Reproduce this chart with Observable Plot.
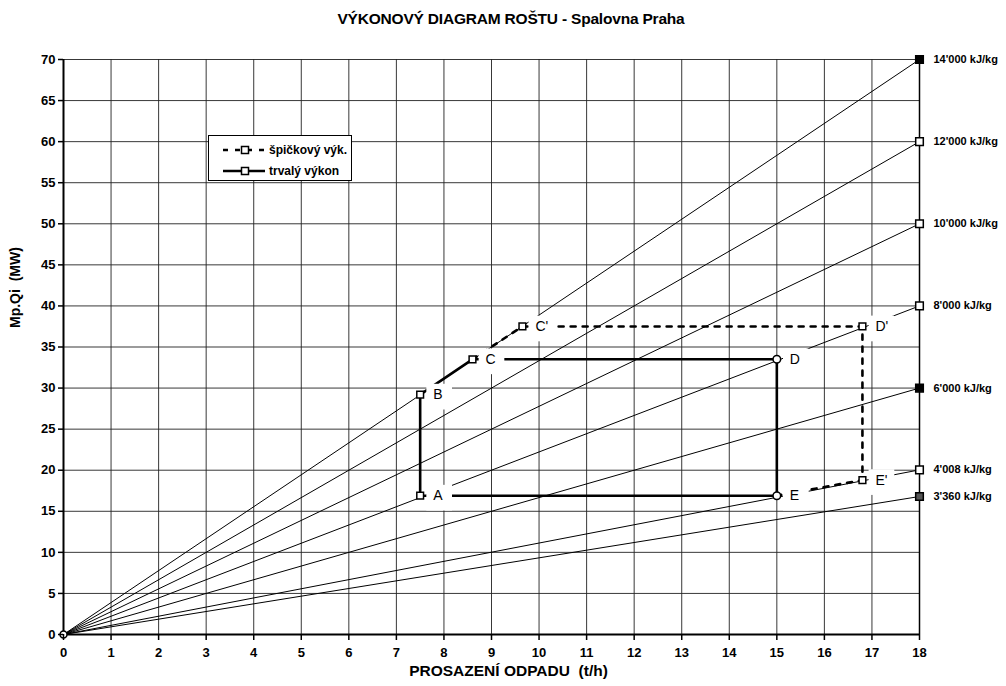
<!DOCTYPE html>
<html><head><meta charset="utf-8">
<script src="https://cdn.jsdelivr.net/npm/d3@7"></script>
<script src="https://cdn.jsdelivr.net/npm/@observablehq/plot@0.6"></script>
<style>
body{margin:0;background:#fff;font-family:"Liberation Sans",Arial,sans-serif;}
#wrap{position:relative;width:1006px;height:686px;overflow:hidden;}
#title{height:36px;line-height:38px;text-align:center;padding-left:16px;box-sizing:border-box;font-weight:bold;font-size:15.5px;letter-spacing:-0.2px;}
#legend{position:absolute;left:208px;top:135px;width:144px;height:46px;}
</style></head>
<body><div id="wrap">
<div id="title">VÝKONOVÝ DIAGRAM ROŠTU - Spalovna Praha</div>
<div id="chart"></div>
<div id="legend"></div>
</div>
<script>
// ticks
const xTicks = [0,1,2,3,4,5,6,7,8,9,10,11,12,13,14,15,16,17,18];
const yTicks = [0,5,10,15,20,25,30,35,40,45,50,55,60,65,70];
// calorific value lines (end values at 18 t/h)
const cvLabels = ["14'000 kJ/kg","12'000 kJ/kg","10'000 kJ/kg","8'000 kJ/kg","6'000 kJ/kg","4'008 kJ/kg","3'360 kJ/kg"];
const cvEndMW = [70,60,50,40,30,20.04,16.8];
const cvMarkerFill = ["black","white","white","white","black","white","#555"];
const xMax = 18;
// continuous output (trvalý výkon)
const contNames = ["A","B","C","D","E","A"];
const contX = [7.5,7.5,8.6,15,15,7.5];
const contY = [16.9,29.2,33.5,33.5,16.9,16.9];
// peak output (špičkový výk.)
const peakNames = ["C","C'","D'","E'","E"];
const peakX = [8.6,9.65,16.8,16.8,15];
const peakY = [33.5,37.5,37.5,18.8,16.9];
// point labels
const ptNames = ["A","B","C","C'","D","D'","E","E'"];
const ptX = [7.5,7.5,8.6,9.65,15,16.8,15,16.8];
const ptY = [16.9,29.2,33.5,37.5,33.5,37.5,16.9,18.8];
const ptSymbol = ["square","square","square","square","circle","square","circle","square"];

const fan = cvLabels.map((label,i)=>({label, mw: cvEndMW[i], fill: cvMarkerFill[i]}));
const cont = contNames.map((n,i)=>({n, x: contX[i], y: contY[i]}));
const peak = peakNames.map((n,i)=>({n, x: peakX[i], y: peakY[i]}));
const pts = ptNames.map((n,i)=>({n, x: ptX[i], y: ptY[i], s: ptSymbol[i]}));

const chart = Plot.plot({
  width: 1006, height: 650,
  marginTop: 23, marginBottom: 52, marginLeft: 63, marginRight: 87,
  x: {domain: [0, 18]},
  y: {domain: [0, 70]},
  color: {type: "identity"},
  style: {fontFamily: "'Liberation Sans', Arial, sans-serif", background: "white", color: "black"},
  marks: [
    Plot.gridX(xTicks, {stroke: "#222", strokeOpacity: 0.9, strokeWidth: 1}),
    Plot.gridY(yTicks, {stroke: "#222", strokeOpacity: 0.9, strokeWidth: 1}),
    Plot.link(fan, {x1: () => 0, y1: () => 0, x2: () => xMax, y2: "mw", stroke: "black", strokeWidth: 1}),
    Plot.line(cont, {x: "x", y: "y", stroke: "black", strokeWidth: 2.6}),
    Plot.line(peak, {x: "x", y: "y", stroke: "black", strokeWidth: 2.6, strokeDasharray: "5,7"}),
    Plot.dot(pts, {x: "x", y: "y", dx: 19, dy: 2, symbol: "square", r: 14.5, fill: "white", stroke: null}),
    Plot.dot(pts, {x: "x", y: "y", symbol: "s", r: 3.8, fill: "white", stroke: "black", strokeWidth: 1.5}),
    Plot.text(pts, {x: "x", y: "y", text: "n", dx: 13, textAnchor: "start", fontSize: 14, fill: "black"}),
    Plot.ruleX([0], {stroke: "black", strokeWidth: 2}),
    Plot.ruleX([18], {stroke: "black", strokeWidth: 1.5}),
    Plot.ruleY([0], {stroke: "black", strokeWidth: 2}),
    Plot.dot([0], {x: () => 0, y: () => 0, r: 3.5, fill: "white", stroke: "black", strokeWidth: 1.5}),
    Plot.dot(fan, {x: () => xMax, y: "mw", symbol: "square", r: 4.3, fill: "fill", stroke: "black", strokeWidth: 1.5}),
    Plot.text(fan, {x: () => xMax, y: "mw", text: "label", dx: 14, textAnchor: "start", fontSize: 11, fontWeight: "bold"}),
    Plot.axisX(xTicks, {tickSize: 6, tickPadding: 7, fontSize: 13, fontWeight: "bold", label: null, strokeWidth: 1.5}),
    Plot.axisY(yTicks, {tickSize: 5, tickPadding: 3, fontSize: 13, fontWeight: "bold", label: null, strokeWidth: 1.5}),
    Plot.text(["PROSAZENÍ ODPADU\u00a0 (t/h)"], {frameAnchor: "bottom", dx: 17, dy: 41, fontSize: 15.5, fontWeight: "bold"}),
    Plot.text(["Mp.Qi\u00a0 (MW)"], {frameAnchor: "left", rotate: -90, dx: -48, dy: -19, fontSize: 14, fontWeight: "bold"})
  ]
});
document.getElementById("chart").appendChild(chart);

// legend
const legend = document.getElementById("legend");
legend.innerHTML = `<svg width="144" height="46" xmlns="http://www.w3.org/2000/svg" font-family="'Liberation Sans', Arial, sans-serif">
<rect x="0.5" y="0.5" width="143" height="45" fill="white" stroke="black" stroke-width="1"/>
<line x1="15" y1="15" x2="57" y2="15" stroke="black" stroke-width="2.6" stroke-dasharray="5,7"/>
<rect x="33.5" y="11.5" width="7" height="7" fill="white" stroke="black" stroke-width="1.5"/>
<text x="61" y="19" font-size="12" font-weight="bold">špičkový výk.</text>
<line x1="15" y1="36" x2="57" y2="36" stroke="black" stroke-width="2.6"/>
<rect x="33.5" y="32.5" width="7" height="7" fill="white" stroke="black" stroke-width="1.5"/>
<text x="61" y="40" font-size="12" font-weight="bold">trvalý výkon</text>
</svg>`;
</script>
</body></html>
